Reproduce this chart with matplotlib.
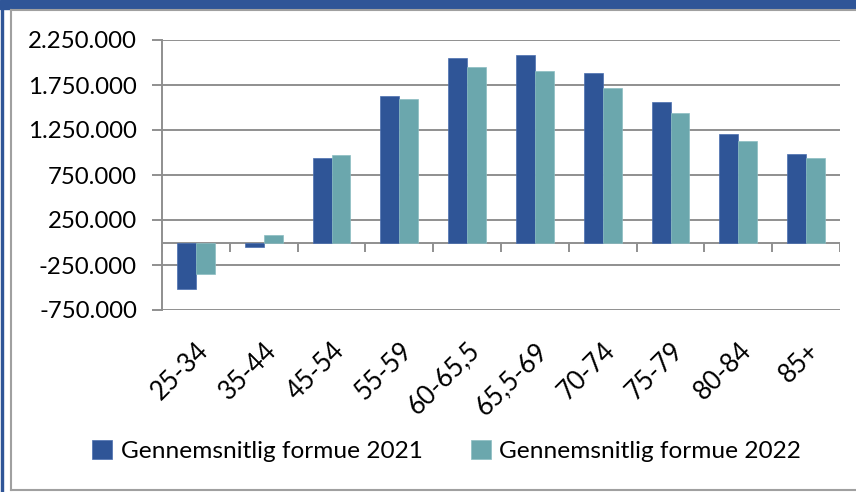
import matplotlib
matplotlib.use("Agg")
import matplotlib.pyplot as plt
import numpy as np
from matplotlib.patches import Rectangle
from matplotlib.lines import Line2D
from matplotlib.ticker import FuncFormatter

categories = ["25-34", "35-44", "45-54", "55-59", "60-65,5", "65,5-69", "70-74", "75-79", "80-84", "85+"]
formue_2021 = [-520000, -50000, 940000, 1630000, 2053000, 2087000, 1883000, 1565000, 1203000, 981000]
formue_2022 = [-353000, 87000, 970000, 1591000, 1950000, 1909000, 1717000, 1443000, 1125000, 936000]
series_labels = ["Gennemsnitlig formue 2021", "Gennemsnitlig formue 2022"]
y_ticks = [-750000, -250000, 250000, 750000, 1250000, 1750000, 2250000]

C21 = "#2F5597"
C22 = "#6BA7AD"
GRID = "#8F8F8F"

plt.rcParams['font.family'] = ['Lato', 'DejaVu Sans']

W, H = 856, 492
fig = plt.figure(figsize=(W / 100, H / 100), dpi=100)

def fx(px):
    return px / W

def fy(py):
    return 1 - py / H

# frame decorations
fig.patches.append(Rectangle((0, fy(9)), 1, 9 / H, transform=fig.transFigure, color=C21, zorder=0))
fig.patches.append(Rectangle((fx(1), 0), 2 / W, 1, transform=fig.transFigure, color=C21, zorder=0))
fig.lines.append(Line2D([fx(11), 1], [fy(10), fy(10)], transform=fig.transFigure, color="#A0A0A0", lw=1.5))
fig.lines.append(Line2D([fx(11), fx(11)], [fy(10), fy(490)], transform=fig.transFigure, color="#A0A0A0", lw=1.5))
fig.lines.append(Line2D([fx(11), 1], [fy(490), fy(490)], transform=fig.transFigure, color="#A0A0A0", lw=1.5))

left, right, top, bottom = 162, 840, 40, 310
ax = fig.add_axes([fx(left), fy(bottom), (right - left) / W, (bottom - top) / H])

n = len(categories)
centers = np.arange(n) + 0.5
bw = 0.28
ax.bar(centers - bw / 2, formue_2021, width=bw, color=C21, label=series_labels[0], zorder=3,
       edgecolor="#4A6FB0", linewidth=0.5)
ax.bar(centers + bw / 2, formue_2022, width=bw, color=C22, label=series_labels[1], zorder=3,
       edgecolor="#8BBDC2", linewidth=0.5)

ax.set_xlim(0, n)
ax.set_ylim(-750000, 2250000)
ax.set_yticks(y_ticks)
ax.yaxis.set_major_formatter(FuncFormatter(lambda v, p: f"{int(v):,}".replace(",", ".")))
ax.yaxis.grid(True, color=GRID, lw=1.4, zorder=1)
ax.set_axisbelow(True)

for s in ["top", "right", "bottom"]:
    ax.spines[s].set_visible(False)
ax.spines["left"].set_color(GRID)
ax.spines["left"].set_linewidth(1.4)

ax.tick_params(axis="y", length=7, width=1.4, color=GRID, pad=11, labelsize=17.3, labelcolor="black")
ax.set_xticks(centers)
ax.set_xticklabels(categories, rotation=45, ha="right", rotation_mode="anchor")
ax.tick_params(axis="x", length=0, pad=20, labelsize=18.5)

# zero axis with category boundary ticks
ax.axhline(0, color=GRID, lw=1.4, zorder=2)
ax.vlines(np.arange(n + 1), -100000, 0, color=GRID, lw=1.4, zorder=2)

fig.legend(loc="center", bbox_to_anchor=(0.522, fy(451)), ncol=2, frameon=False,
           fontsize=17.6, handlelength=0.8, handleheight=0.8, handletextpad=0.35,
           columnspacing=2.0)

fig.savefig("out.png", dpi=100)
